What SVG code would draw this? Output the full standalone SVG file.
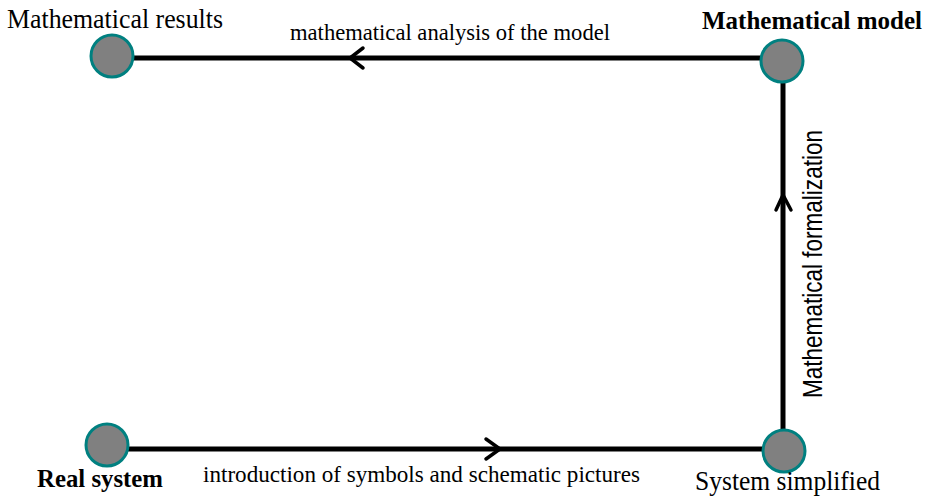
<svg xmlns="http://www.w3.org/2000/svg" width="930" height="497" viewBox="0 0 930 497">
<style>
.edge{stroke:#000;stroke-width:5;fill:none}
.chev{stroke:#000;stroke-width:3.5;fill:none;stroke-linecap:round;stroke-linejoin:miter}
.node{fill:#808080;stroke:#008080;stroke-width:3}
.serif{font-family:"Liberation Serif","Times New Roman",serif;fill:#000}
.sans{font-family:"Liberation Sans",Arial,sans-serif;fill:#000}
</style>
<rect width="930" height="497" fill="#fff"/>
<g id="connectors">
<line class="edge" x1="782" y1="58" x2="112" y2="58"/>
<path class="chev" d="M363 48 L350 58 L363 68"/>
<line class="edge" x1="107" y1="449" x2="784" y2="449"/>
<path class="chev" d="M486 439 L500 449 L486 459"/>
<line class="edge" x1="783" y1="451" x2="783" y2="61"/>
<path class="chev" d="M776 210 L783 195 L791 210"/>
<text class="serif" x="290" y="40" font-size="23" textLength="320" lengthAdjust="spacingAndGlyphs">mathematical analysis of the model</text>
<text class="serif" x="203" y="482" font-size="23" textLength="437" lengthAdjust="spacingAndGlyphs">introduction of symbols and schematic pictures</text>
<text class="sans" transform="translate(822,264) rotate(-90)" text-anchor="middle" font-size="27" textLength="268" lengthAdjust="spacingAndGlyphs">Mathematical  formalization</text>
</g>
<g id="node-results">
<circle class="node" cx="112" cy="56" r="21"/>
<text class="serif" x="7" y="28" font-size="27" textLength="216" lengthAdjust="spacingAndGlyphs">Mathematical results</text>
</g>
<g id="node-model">
<circle class="node" cx="782" cy="61" r="21"/>
<text class="serif" x="702" y="29" font-size="25" font-weight="bold" textLength="220" lengthAdjust="spacingAndGlyphs">Mathematical model</text>
</g>
<g id="node-real">
<circle class="node" cx="107" cy="445" r="21"/>
<text class="serif" x="37" y="487" font-size="26" font-weight="bold" textLength="126" lengthAdjust="spacingAndGlyphs">Real system</text>
</g>
<g id="node-simplified">
<circle class="node" cx="784" cy="451" r="21"/>
<text class="serif" x="695" y="490" font-size="27" textLength="185" lengthAdjust="spacingAndGlyphs">System simplified</text>
</g>
</svg>
